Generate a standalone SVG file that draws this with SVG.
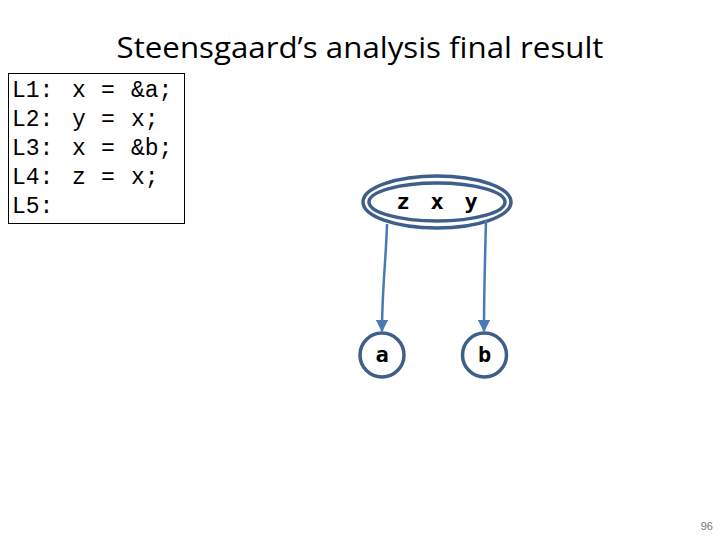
<svg xmlns="http://www.w3.org/2000/svg" width="720" height="540" viewBox="0 0 720 540">
<defs>
<style>
.code{font-family:"Liberation Mono","Courier New",monospace;font-size:23px;fill:#000}
.node{fill:none;stroke:#3d5f8a;stroke-width:3.5}
.lab{font-family:"DejaVu Sans Mono","Liberation Mono",monospace;font-size:22px;font-weight:bold;fill:#000;text-anchor:middle}
.edge{fill:none;stroke:#4a7ab5;stroke-width:2.5}
</style>
<marker id="ah" viewBox="0 0 10 10" refX="9" refY="5" markerWidth="5" markerHeight="5" orient="auto" markerUnits="strokeWidth">
<path d="M0,0 L10,5 L0,10 z" fill="#4a7ab5"/>
</marker>
</defs>
<rect width="720" height="540" fill="#fff"/>
<text x="360" y="58" text-anchor="middle" font-family="'Open Sans','Liberation Sans',sans-serif" font-size="30" textLength="487" lengthAdjust="spacingAndGlyphs" fill="#000">Steensgaard’s analysis final result</text>
<g id="code">
<rect x="8.5" y="73.5" width="176" height="150" fill="#fff" stroke="#000" stroke-width="1"/>
<text class="code" x="12" y="97">L1:</text><text class="code" x="72" y="97">x</text><text class="code" x="101" y="97">=</text><text class="code" x="131" y="97">&amp;a;</text>
<text class="code" x="12" y="126">L2:</text><text class="code" x="72" y="126">y</text><text class="code" x="101" y="126">=</text><text class="code" x="131" y="126">x;</text>
<text class="code" x="12" y="155">L3:</text><text class="code" x="72" y="155">x</text><text class="code" x="101" y="155">=</text><text class="code" x="131" y="155">&amp;b;</text>
<text class="code" x="12" y="184">L4:</text><text class="code" x="72" y="184">z</text><text class="code" x="101" y="184">=</text><text class="code" x="131" y="184">x;</text>
<text class="code" x="12" y="213">L5:</text>
</g>
<g id="zxy">
<ellipse class="node" cx="437" cy="202" rx="74" ry="26"/>
<ellipse class="node" cx="437" cy="202" rx="68" ry="19"/>
<text class="lab" y="209"><tspan x="403">z</tspan><tspan x="437">x</tspan><tspan x="471">y</tspan></text>
</g>
<g id="a">
<circle class="node" cx="382" cy="355" r="22" stroke-width="3"/>
<text class="lab" x="382" y="362">a</text>
</g>
<g id="b">
<circle class="node" cx="484.5" cy="355" r="22" stroke-width="3"/>
<text class="lab" x="484.5" y="362">b</text>
</g>
<g id="edges">
<path class="edge" d="M387,224 C386,260 382,290 382,331" marker-end="url(#ah)"/>
<path class="edge" d="M486,220 C485,260 484,290 484,331" marker-end="url(#ah)"/>
</g>
<text x="713" y="530" text-anchor="end" font-family="'Liberation Sans',sans-serif" font-size="11" fill="#777">96</text>
</svg>
